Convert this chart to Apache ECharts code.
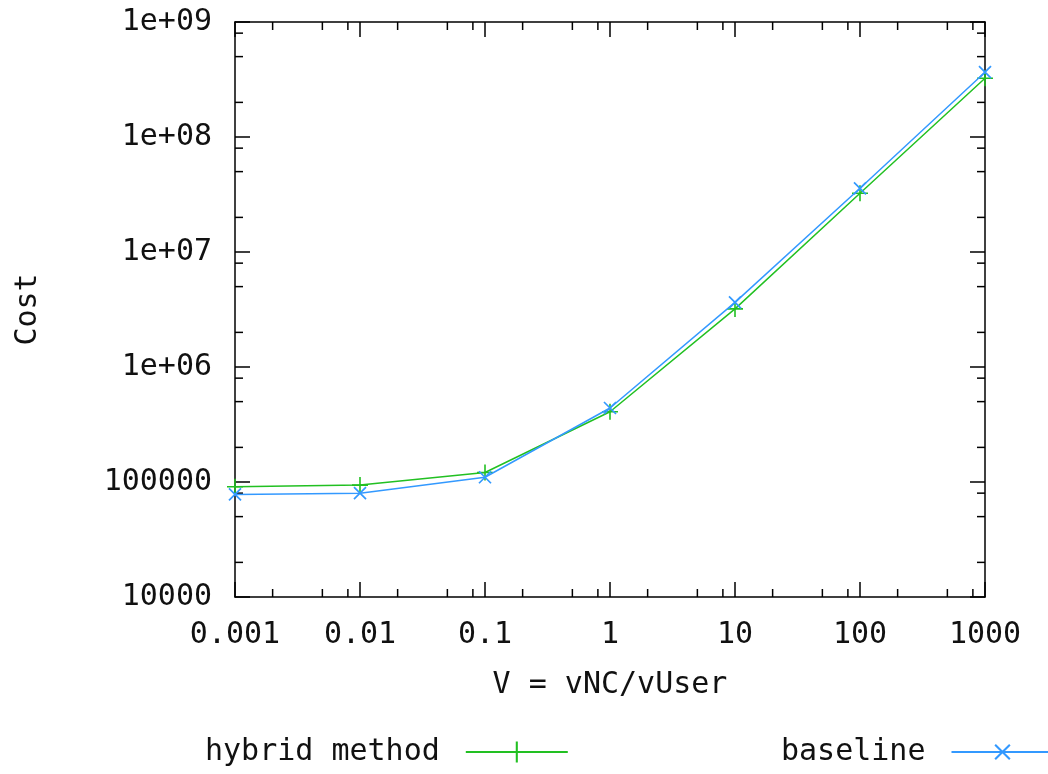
<!DOCTYPE html>
<html>
<head>
<meta charset="utf-8">
<script src="https://cdn.jsdelivr.net/npm/echarts@6/dist/echarts.min.js"></script>
<style>
  html, body { margin: 0; padding: 0; background: #fff; }
  #chart { width: 1048px; height: 774px; }
</style>
</head>
<body>
<div id="chart"></div>
<script>
// V = vNC/vUser on x, Cost on y, both log10
var xValues = [0.001, 0.01, 0.1, 1, 10, 100, 1000];
var hybridCost = [91000, 94000, 121000, 408000, 3200000, 32400000, 324000000];
var baselineCost = [78000, 80000, 110000, 440000, 3650000, 35800000, 366000000];

var xTickLabels = ['0.001', '0.01', '0.1', '1', '10', '100', '1000'];
var yTickLabels = ['10000', '100000', '1e+06', '1e+07', '1e+08', '1e+09'];

// small ticks at 2, 5, 8 of every decade (like the gnuplot frame)
var xMinorTicks = [0.002, 0.005, 0.008, 0.02, 0.05, 0.08, 0.2, 0.5, 0.8,
                   2, 5, 8, 20, 50, 80, 200, 500, 800];
var yMinorTicks = [20000, 50000, 80000, 200000, 500000, 800000,
                   2000000, 5000000, 8000000, 20000000, 50000000, 80000000,
                   200000000, 500000000, 800000000];

var font = 'DejaVu Sans Mono';
var fsize = 30;
var green = '#22c022';
var blue = '#3399ff';
var plusPath = 'path://M-1,-10H1V10H-1ZM-10,-1H10V1H-10Z';

function pairs(ys) {
    return xValues.map(function (x, i) { return [x, ys[i]]; });
}

function xLabel(v) {
    return xTickLabels[Math.round(Math.log10(v)) + 3] || '';
}
function yLabel(v) {
    return yTickLabels[Math.round(Math.log10(v)) - 4] || '';
}

function minorX(params, api) {
    var p = api.coord([api.value(0), 10000]);
    var cs = params.coordSys;
    var st = { stroke: '#000', lineWidth: 1.5 };
    return {
        type: 'group',
        children: [
            { type: 'line', shape: { x1: p[0], y1: cs.y + cs.height, x2: p[0], y2: cs.y + cs.height - 8 }, style: st },
            { type: 'line', shape: { x1: p[0], y1: cs.y, x2: p[0], y2: cs.y + 8 }, style: st }
        ]
    };
}
function minorY(params, api) {
    var p = api.coord([0.001, api.value(1)]);
    var cs = params.coordSys;
    var st = { stroke: '#000', lineWidth: 1.5 };
    return {
        type: 'group',
        children: [
            { type: 'line', shape: { x1: cs.x, y1: p[1], x2: cs.x + 8, y2: p[1] }, style: st },
            { type: 'line', shape: { x1: cs.x + cs.width, y1: p[1], x2: cs.x + cs.width - 8, y2: p[1] }, style: st }
        ]
    };
}

var axisLine = { show: true, lineStyle: { color: '#000', width: 1.5 } };
var majorTick = { show: true, inside: true, length: 15, lineStyle: { color: '#000', width: 1.5 } };
var txt = { fontFamily: font, fontSize: fsize, color: '#111' };

var chart = echarts.init(document.getElementById('chart'));
chart.setOption({
    animation: false,
    backgroundColor: '#fff',
    textStyle: { fontFamily: font },
    grid: { left: 235, right: 63, top: 22, bottom: 177, containLabel: false },
    legend: [{
        data: ['hybrid method'],
        left: 200, top: 732,
        align: 'right',
        itemWidth: 102, itemHeight: 26,
        textStyle: { fontFamily: font, fontSize: fsize, color: '#111', padding: [0, 21, 0, 0] }
    }, {
        data: ['baseline'],
        left: 776, top: 732,
        align: 'right',
        itemWidth: 102, itemHeight: 26,
        textStyle: { fontFamily: font, fontSize: fsize, color: '#111', padding: [0, 21, 0, 0] }
    }],
    xAxis: [{
        type: 'log', logBase: 10, min: 0.001, max: 1000, splitNumber: 6,
        name: 'V = vNC/vUser', nameLocation: 'middle', nameGap: 73,
        nameTextStyle: txt,
        axisLine: axisLine, axisTick: majorTick,
        axisLabel: { margin: 23, fontFamily: font, fontSize: fsize, color: '#111', formatter: xLabel },
        splitLine: { show: false }
    }, {
        type: 'log', logBase: 10, min: 0.001, max: 1000, splitNumber: 6, position: 'top',
        axisLine: axisLine, axisTick: majorTick, axisLabel: { show: false }, splitLine: { show: false }
    }],
    yAxis: [{
        type: 'log', logBase: 10, min: 10000, max: 1000000000, splitNumber: 5,
        name: 'Cost', nameLocation: 'middle', nameGap: 192,
        nameTextStyle: txt,
        axisLine: axisLine, axisTick: majorTick,
        axisLabel: { margin: 23, fontFamily: font, fontSize: fsize, color: '#111', formatter: yLabel },
        splitLine: { show: false }
    }, {
        type: 'log', logBase: 10, min: 10000, max: 1000000000, splitNumber: 5, position: 'right',
        axisLine: axisLine, axisTick: majorTick, axisLabel: { show: false }, splitLine: { show: false }
    }],
    series: [{
        name: 'xMinor', type: 'custom', silent: true, renderItem: minorX,
        data: xMinorTicks.map(function (v) { return [v, 10000]; }), z: 1
    }, {
        name: 'yMinor', type: 'custom', silent: true, renderItem: minorY,
        data: yMinorTicks.map(function (v) { return [0.001, v]; }), z: 1
    }, {
        name: 'hybrid method', type: 'line', data: pairs(hybridCost),
        symbol: plusPath, symbolSize: 16, showAllSymbol: true,
        lineStyle: { color: green, width: 1.5 },
        itemStyle: { color: green },
        z: 3
    }, {
        name: 'baseline', type: 'line', data: pairs(baselineCost),
        symbol: plusPath, symbolSize: 17, symbolRotate: 45, showAllSymbol: true,
        lineStyle: { color: blue, width: 1.5 },
        itemStyle: { color: blue },
        z: 4
    }]
});
</script>
</body>
</html>
